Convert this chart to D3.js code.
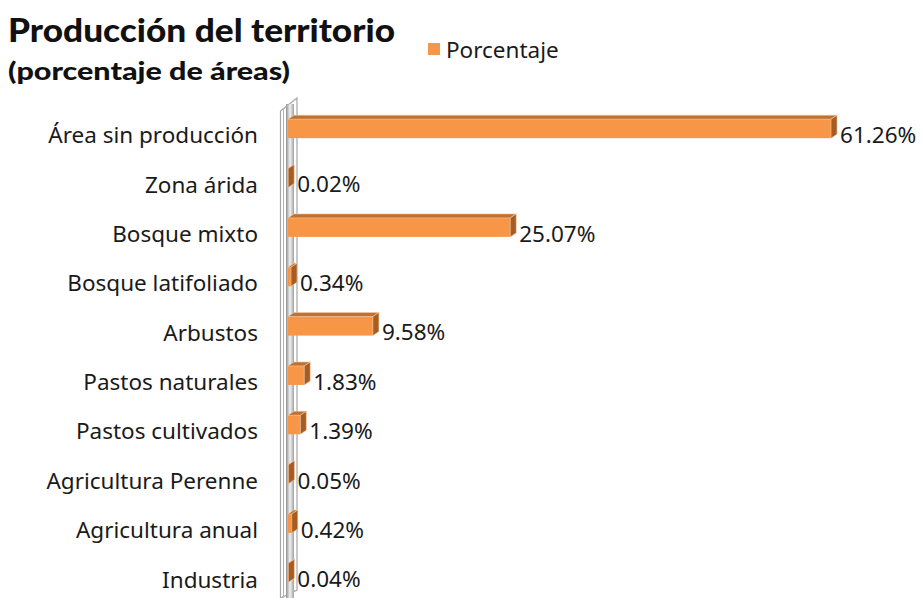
<!DOCTYPE html>
<html>
<head>
<meta charset="utf-8">
<script src="https://cdn.jsdelivr.net/npm/d3@7"></script>
<style>
  body { margin: 0; background: #fff; }
  svg { display: block; }
</style>
</head>
<body>
<div id="chart"></div>
<script>
  // chart data
  var categories = ["Área sin producción", "Zona árida", "Bosque mixto", "Bosque latifoliado", "Arbustos",
                    "Pastos naturales", "Pastos cultivados", "Agricultura Perenne", "Agricultura anual", "Industria"];
  var values = [61.26, 0.02, 25.07, 0.34, 9.58, 1.83, 1.39, 0.05, 0.42, 0.04];
  var seriesName = "Porcentaje";

  var w = 923, h = 598;
  var dx = 6, dy = -4;        // 3d depth of the bars
  var barTop = -15, barBot = 4; // front face relative to band centre

  var svg = d3.select("#chart").append("svg")
    .attr("width", w)
    .attr("height", h);

  var y = d3.scaleBand().domain(categories).range([109.5, 603]).padding(0);
  var x = d3.scaleLinear().domain([0, 70]).range([288, 908.5]);
  var cy = function(d) { return y(d) + y.bandwidth() / 2; };

  // wall gradient
  var defs = svg.append("defs");
  var g1 = defs.append("linearGradient").attr("id", "wallGrad")
    .attr("x1", "0%").attr("x2", "100%").attr("y1", "0%").attr("y2", "0%");
  g1.append("stop").attr("offset", "0%").attr("stop-color", "#8f8f8f");
  g1.append("stop").attr("offset", "50%").attr("stop-color", "#f2f2f2");
  g1.append("stop").attr("offset", "100%").attr("stop-color", "#a0a0a0");

  // side wall
  var wall = svg.append("g");
  wall.append("path")
    .attr("d", "M280.5,598 L280.5,111 L297,98 L297,590 Z")
    .attr("fill", "#fff")
    .attr("stroke", "#a6a6a6")
    .attr("stroke-width", 1.2);
  wall.append("rect")
    .attr("x", 286).attr("y", 104)
    .attr("width", 8).attr("height", 494)
    .attr("fill", "url(#wallGrad)");
  wall.append("line")
    .attr("x1", 283.5).attr("x2", 283.5).attr("y1", 109).attr("y2", 598)
    .attr("stroke", "#b0b0b0");
  wall.append("line")
    .attr("x1", 283.5).attr("x2", 289).attr("y1", 109).attr("y2", 104)
    .attr("stroke", "#b0b0b0");

  // category labels
  var axis = svg.append("g")
    .attr("transform", "translate(288,2)")
    .call(d3.axisLeft(y).tickSize(0).tickPadding(30));
  axis.select(".domain").remove();
  axis.selectAll("text")
    .attr("font-family", "'Noto Sans', sans-serif")
    .attr("font-size", "22.5px")
    .attr("fill", "#1a1a1a");

  // bars
  var bars = svg.selectAll("g.bar")
    .data(values)
    .enter()
    .append("g")
    .attr("class", "bar");

  bars.append("rect")
    .attr("x", x(0))
    .attr("y", function(d, i) { return cy(categories[i]) + barTop; })
    .attr("width", function(d) { return x(d) - x(0); })
    .attr("height", barBot - barTop)
    .attr("fill", "#F79646");

  // top face
  bars.append("path")
    .attr("d", function(d, i) {
      var x0 = x(0), x1 = x(d), t = cy(categories[i]) + barTop;
      return "M" + x0 + "," + t + "L" + (x0 + dx) + "," + (t + dy) + "L" + (x1 + dx) + "," + (t + dy) + "L" + x1 + "," + t + "Z";
    })
    .attr("fill", "#c0712f")
    .attr("stroke", "#f6c9a3")
    .attr("stroke-width", 0.6);

  // side face
  bars.append("path")
    .attr("d", function(d, i) {
      var x1 = x(d), t = cy(categories[i]) + barTop, b = cy(categories[i]) + barBot;
      return "M" + x1 + "," + t + "L" + (x1 + dx) + "," + (t + dy) + "L" + (x1 + dx) + "," + (b + dy) + "L" + x1 + "," + b + "Z";
    })
    .attr("fill", "#a65c22")
    .attr("stroke", "#f6c9a3")
    .attr("stroke-width", 0.6);

  // data labels
  bars.append("text")
    .text(function(d) { return d.toFixed(2) + "%"; })
    .attr("x", function(d) { return x(d) + dx + 3; })
    .attr("y", function(d, i) { return cy(categories[i]) + 1; })
    .attr("dy", "0.35em")
    .attr("font-family", "'Noto Sans', sans-serif")
    .attr("font-size", "22.5px")
    .attr("fill", "#1a1a1a");

  // title
  svg.append("text")
    .text("Producción del territorio")
    .attr("x", 8).attr("y", 42)
    .attr("font-family", "Lato, sans-serif")
    .attr("font-weight", "900")
    .attr("font-size", "32px")
    .attr("textLength", 387)
    .attr("lengthAdjust", "spacingAndGlyphs")
    .attr("fill", "#111");
  svg.append("text")
    .text("(porcentaje de áreas)")
    .attr("x", 8).attr("y", 80)
    .attr("font-family", "Lato, sans-serif")
    .attr("font-weight", "900")
    .attr("font-size", "25px")
    .attr("textLength", 282)
    .attr("lengthAdjust", "spacingAndGlyphs")
    .attr("fill", "#111");

  // legend
  var legend = svg.append("g");
  legend.append("rect")
    .attr("x", 428).attr("y", 43)
    .attr("width", 12).attr("height", 12)
    .attr("fill", "#F79646");
  legend.append("text")
    .text(seriesName)
    .attr("x", 446).attr("y", 50)
    .attr("dy", "0.35em")
    .attr("font-family", "'Noto Sans', sans-serif")
    .attr("font-size", "22.5px")
    .attr("fill", "#1a1a1a");
</script>
</body>
</html>
